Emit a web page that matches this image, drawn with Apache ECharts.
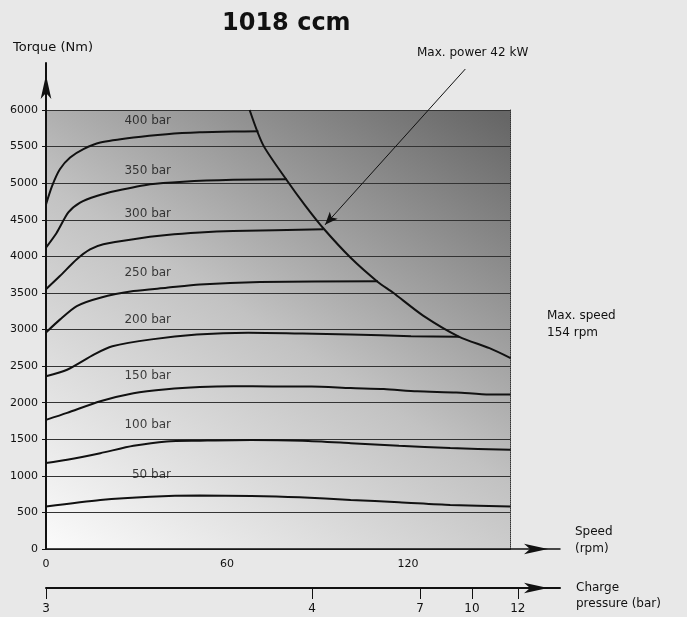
<!DOCTYPE html>
<html>
<head>
<meta charset="utf-8">
<script src="https://cdn.jsdelivr.net/npm/echarts@6/dist/echarts.min.js"></script>
<style>
  html, body { margin: 0; padding: 0; background: #e8e8e8; }
  #chart { width: 687px; height: 617px; }
</style>
</head>
<body>
<div id="chart"></div>
<script>
  // torque curves, [speed rpm, torque Nm]
  const bar400 = [[0,4710],[2,4960],[4.6,5190],[8,5350],[12.4,5465],[18,5555],[29,5625],[40,5670],[51,5695],[62,5705],[70.4,5708]];
  const bar350 = [[0,4120],[3.5,4320],[7.4,4600],[11.3,4735],[16.8,4825],[23.4,4895],[34.5,4985],[45.5,5020],[62,5045],[79.8,5055]];
  const bar300 = [[0,3550],[4.6,3730],[10.2,3960],[14.6,4095],[19,4165],[29,4235],[40,4290],[51,4325],[62,4345],[92,4370]];
  const bar250 = [[0,2960],[4.6,3135],[10.2,3320],[18,3435],[29,3525],[40,3570],[51,3615],[71,3648],[110,3660]];
  const bar200 = [[0,2360],[7,2450],[16,2660],[22,2770],[35,2865],[50,2930],[67,2955],[85,2945],[101,2932],[121,2908],[137,2900]];
  const bar150 = [[0,1765],[7,1860],[18,2020],[29,2130],[40,2185],[51,2215],[62,2225],[75,2222],[88,2222],[101,2200],[112,2187],[123,2155],[136,2140],[147,2110],[154,2110]];
  const bar100 = [[0,1175],[7,1220],[18,1310],[29,1410],[40,1470],[51,1480],[68,1490],[85,1480],[101,1447],[117,1411],[134,1379],[154,1356]];
  const bar50  = [[0,580],[18,670],[34.5,715],[51,730],[68,726],[84,708],[101,671],[117,640],[134,603],[154,580]];
  const maxPower = [[67.5,6000],[72,5520],[80,5030],[86,4690],[92,4380],[101,3980],[110,3650],[115,3505],[125,3190],[137,2900],[147,2745],[154,2610]];

  const curveNames = ['400 bar','350 bar','300 bar','250 bar','200 bar','150 bar','100 bar','50 bar'];
  const labelSpeed = [26, 26, 26, 26, 26, 26, 26, 28.5];
  const labelTorque = [5850, 5165, 4575, 3780, 3125, 2370, 1700, 1015];

  // charge pressure ticks and where they sit on the speed scale
  const pressureLabels = ['3', '4', '7', '10', '12'];
  const pressureAtSpeed = [0, 88.2, 124, 141.2, 156.4];

  const speedMax = 154, speedStep = 60;
  const torqueMax = 6000, torqueStep = 500;

  // layout (px)
  const left = 46, plotTop = 110, plotBottom = 549;
  const pxPerRpm = 3.0167;
  const pxPerNm = (plotBottom - plotTop) / torqueMax;
  const arrowTipX = 560, arrowTipY = 63;
  const speedArrowMax = (arrowTipX - left) / pxPerRpm;
  const torqueArrowMax = (plotBottom - arrowTipY) / pxPerNm;

  const font = 'DejaVu Sans';
  const ink = '#111';

  const chart = echarts.init(document.getElementById('chart'));

  const arrowLine = w => ({
    show: true,
    onZero: false,
    symbol: ['none', 'arrow'],
    symbolSize: [8, 24],
    symbolOffset: [0, -12],
    lineStyle: { color: ink, width: w }
  });

  const curve = (name, data) => ({
    name: name,
    type: 'line',
    xAxisIndex: 0, yAxisIndex: 0,
    data: data,
    showSymbol: false,
    smooth: 0.25,
    lineStyle: { color: ink, width: 2 },
    silent: true,
    z: 5
  });

  chart.setOption({
    animation: false,
    backgroundColor: '#e8e8e8',
    textStyle: { fontFamily: font },
    grid: [
      { left: left, top: plotTop, width: speedMax * pxPerRpm, height: plotBottom - plotTop,
        show: true, borderWidth: 0,
        backgroundColor: new echarts.graphic.LinearGradient(0, 1, 0.72, -0.17, [
          { offset: 0, color: '#fbfbfb' },
          { offset: 0.5, color: '#c2c2c2' },
          { offset: 1, color: '#666666' }
        ]) },
      { left: left, top: arrowTipY, width: arrowTipX - left, height: plotBottom - arrowTipY },
      { left: left, top: 587, width: arrowTipX - left, height: 1 }
    ],
    xAxis: [
      { type: 'value', gridIndex: 0, min: 0, max: speedMax, interval: speedStep,
        axisLine: { show: false }, axisTick: { show: false }, splitLine: { show: false },
        axisLabel: { margin: 10, fontSize: 11, color: ink, fontFamily: font, showMaxLabel: false,
          formatter: v => String(v) } },
      { type: 'value', gridIndex: 1, min: 0, max: speedArrowMax,
        axisLine: arrowLine(1.5), axisTick: { show: false }, axisLabel: { show: false }, splitLine: { show: false } },
      { type: 'value', gridIndex: 2, min: 0, max: speedArrowMax,
        axisLine: arrowLine(2),
        axisTick: { show: true, customValues: pressureAtSpeed, length: 11, lineStyle: { color: ink, width: 1 } },
        axisLabel: { show: true, customValues: pressureAtSpeed, margin: 15, fontSize: 12, color: ink, fontFamily: font,
          formatter: v => pressureLabels[pressureAtSpeed.indexOf(v)] },
        splitLine: { show: false } }
    ],
    yAxis: [
      { type: 'value', gridIndex: 0, min: 0, max: torqueMax, interval: torqueStep,
        axisLine: { show: false },
        axisTick: { show: true, length: 4, lineStyle: { color: ink } },
        axisLabel: { margin: 8, fontSize: 11, color: ink, fontFamily: font, formatter: v => String(v) },
        splitLine: { show: true, lineStyle: { color: '#333', width: 1 } } },
      { type: 'value', gridIndex: 0, position: 'right', min: 0, max: torqueMax,
        axisLine: { show: true, lineStyle: { color: '#333', width: 1, type: 'dotted' } },
        axisTick: { show: false }, axisLabel: { show: false }, splitLine: { show: false } },
      { type: 'value', gridIndex: 1, min: 0, max: torqueArrowMax,
        axisLine: arrowLine(2), axisTick: { show: false }, axisLabel: { show: false }, splitLine: { show: false } },
      { type: 'value', gridIndex: 2, min: 0, max: 1, show: false }
    ],
    series: [
      curve('400 bar', bar400),
      curve('350 bar', bar350),
      curve('300 bar', bar300),
      curve('250 bar', bar250),
      curve('200 bar', bar200),
      curve('150 bar', bar150),
      curve('100 bar', bar100),
      curve('50 bar', bar50),
      curve('Max. power', maxPower),
      {
        type: 'scatter',
        xAxisIndex: 0, yAxisIndex: 0,
        symbolSize: 0,
        silent: true,
        data: curveNames.map((n, i) => ({ value: [labelSpeed[i], labelTorque[i]], name: n })),
        label: { show: true, position: 'right', distance: 0, formatter: '{b}',
          fontSize: 12, color: ink, fontFamily: font },
        z: 6
      },
      {
        // pointer from the "Max. power" note to the 300 bar corner
        type: 'scatter',
        xAxisIndex: 1, yAxisIndex: 2,
        symbolSize: 0,
        silent: true,
        data: [[139, 6560]],
        markLine: {
          silent: true,
          symbol: ['none', 'arrow'],
          symbolSize: [8, 13],
          label: { show: false },
          lineStyle: { color: ink, width: 1, type: 'solid' },
          data: [[{ coord: [139, 6560] }, { coord: [92.5, 4430] }]]
        }
      }
    ],
    graphic: [
      { type: 'text', left: 222, top: 9.5,
        style: { text: '1018 ccm', font: 'bold 24px "DejaVu Sans"', fill: ink, lineHeight: 28 } },
      { type: 'text', left: 13, top: 39.5,
        style: { text: 'Torque (Nm)', font: '13px "DejaVu Sans"', fill: ink, lineHeight: 16 } },
      { type: 'text', left: 417, top: 45,
        style: { text: 'Max. power 42 kW', font: '12px "DejaVu Sans"', fill: ink, lineHeight: 16 } },
      { type: 'text', left: 547, top: 307.5,
        style: { text: 'Max. speed\n154 rpm', font: '12px "DejaVu Sans"', fill: ink, lineHeight: 17 } },
      { type: 'text', left: 575, top: 523.5,
        style: { text: 'Speed\n(rpm)', font: '12px "DejaVu Sans"', fill: ink, lineHeight: 17 } },
      { type: 'text', left: 576, top: 580,
        style: { text: 'Charge\npressure (bar)', font: '12px "DejaVu Sans"', fill: ink, lineHeight: 16 } }
    ]
  });
</script>
</body>
</html>
